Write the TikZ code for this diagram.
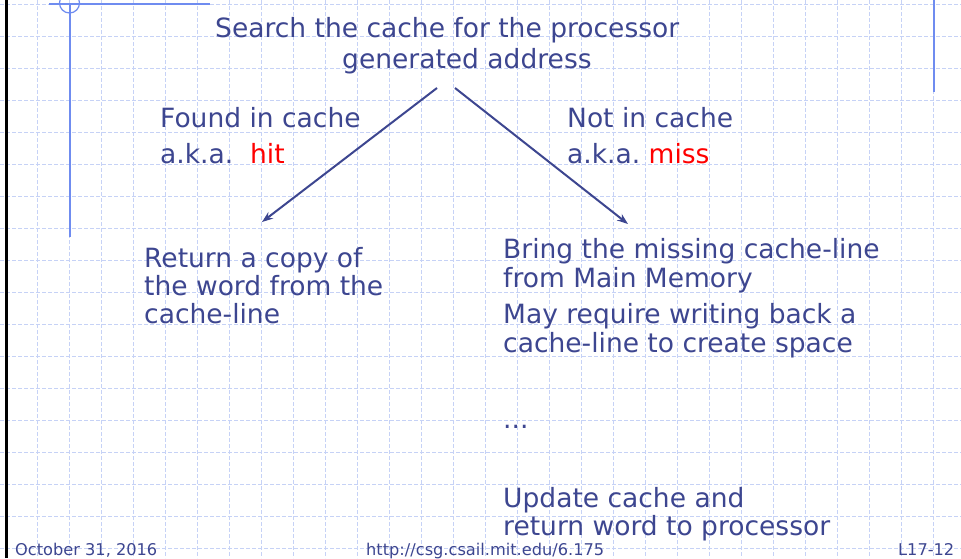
\documentclass[tikz,border=0pt]{standalone}
\usepackage{fontspec}
\setmainfont{DejaVu Sans}
\usetikzlibrary{arrows.meta}
\definecolor{txt}{HTML}{3D4690}
\definecolor{gridc}{HTML}{C6D2F6}
\definecolor{rule}{HTML}{6F8CF0}
\definecolor{hot}{HTML}{FF0000}
\tikzset{
  big/.style={anchor=base west, inner sep=0pt, text=txt, font=\fontsize{26.5}{30}\selectfont},
  foot/.style={anchor=base west, inner sep=0pt, text=txt, font=\fontsize{16.2}{19}\selectfont},
  gridline/.style={gridc, line width=0.8pt, dash pattern=on 4pt off 2pt},
  conn/.style={txt, line width=2pt, -{Stealth[length=11pt,width=8pt]}},
  blueline/.style={rule, line width=2pt}
}
\begin{document}
\begin{tikzpicture}[x=1pt,y=-1pt]
\useasboundingbox (0,0) rectangle (961,558);
\fill[white] (0,0) rectangle (961,558);
% grid
\foreach \i in {0,...,29} { \draw[gridline] (5+32*\i,0) -- (5+32*\i,558); }
\foreach \j in {0,...,17} { \draw[gridline] (0,4+32*\j) -- (961,4+32*\j); }
% decorations
\draw[black, line width=3pt] (6,0) -- (6,558);
\draw[blueline] (69.5,3) -- (69.5,237);
\draw[blueline] (49,4) -- (210,4);
\draw[rule, line width=1.2pt] (69.5,3) circle (10);
\draw[blueline] (934,0) -- (934,92);
% texts
\node[big] (t1) at (215,37) {Search the cache for the processor};
\node[big] (t2) at (342,68) {generated address};
\node[big] (f1) at (160,127) {Found in cache};
\node[big] (f2) at (160,163) {a.k.a.\ \ \textcolor{hot}{hit}};
\node[big] (n1) at (567,127) {Not in cache};
\node[big] (n2) at (567,163) {a.k.a.\ \textcolor{hot}{miss}};
\node[big] (r1) at (144,267) {Return a copy of};
\node[big] (r2) at (144,295) {the word from the};
\node[big] (r3) at (144,323) {cache-line};
\node[big] (b1) at (503,258) {Bring the missing cache-line};
\node[big] (b2) at (503,287) {from Main Memory};
\node[big] (b3) at (503,323) {May require writing back a};
\node[big] (b4) at (503,352) {cache-line to create space};
\node[big] (dots) at (503,428) {...};
\node[big] (u1) at (503,507) {Update cache and};
\node[big] (u2) at (503,535) {return word to processor};
\node[foot] (d) at (15,555) {October 31, 2016};
\node[foot] (url) at (366,555) {http://csg.csail.mit.edu/6.175};
\node[foot] (pg) at (898,555) {L17-12};
% arrows
\coordinate (sL) at (437,88);
\coordinate (eL) at (262,222);
\coordinate (sR) at (455,88);
\coordinate (eR) at (628,224);
\draw[conn] (sL) -- (eL);
\draw[conn] (sR) -- (eR);
\end{tikzpicture}
\end{document}
